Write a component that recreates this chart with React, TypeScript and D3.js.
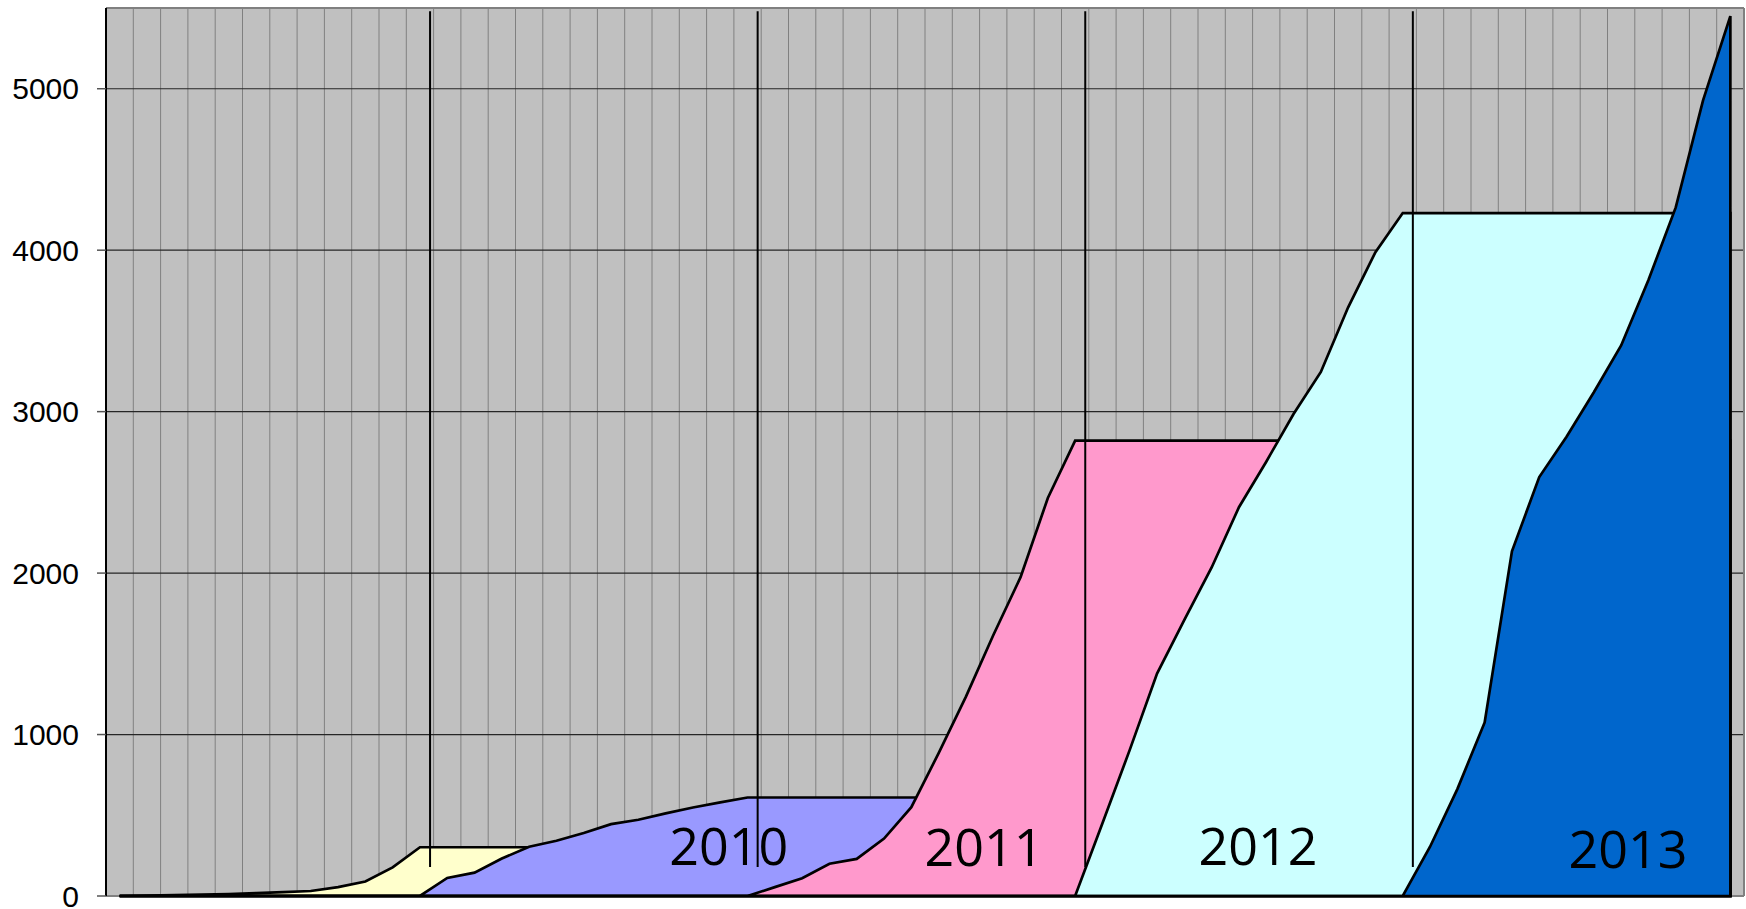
import React from "react";
import * as d3 from "d3";

const years = ["2009", "2010", "2011", "2012", "2013"];
const months = ["Jan", "Feb", "Mar", "Apr", "May", "Jun", "Jul", "Aug", "Sep", "Oct", "Nov", "Dec"];

// cumulative totals per month, one list per year
const cum2009 = [0, 3, 5, 8, 12, 18, 24, 31, 55, 90, 177, 302];
const cum2010 = [112, 145, 232, 305, 342, 390, 445, 472, 512, 548, 580, 610];
const cum2011 = [55, 110, 200, 230, 356, 550, 885, 1235, 1615, 1975, 2465, 2820];
const cum2012 = [450, 905, 1378, 1710, 2035, 2408, 2690, 2985, 3246, 3646, 3988, 4230];
const cum2013 = [305, 662, 1075, 2135, 2595, 2845, 3120, 3410, 3815, 4265, 4928, 5450];

const yTicks = [0, 1000, 2000, 3000, 4000, 5000];
const labelYears = ["2010", "2011", "2012", "2013"];

const fills = ["#FFFFCC", "#9999FF", "#FF99CC", "#CCFFFF", "#0066CC"];

const categories = years.flatMap((yr) => months.map((m) => `${m} ${yr}`));

// 0 before the year, running total during it, held flat afterwards
function toSeries(vals: number[], k: number) {
  return categories.map((_, i) => {
    const start = 12 * k;
    if (i < start) return 0;
    if (i < start + 12) return vals[i - start];
    return vals[11];
  });
}

const allYears = [cum2009, cum2010, cum2011, cum2012, cum2013];

export default function App() {
  const width = 1746;
  const height = 909;
  const left = 106, right = 1744, top = 8, bottom = 896;

  const x = d3.scalePoint<number>()
    .domain(categories.map((_, i) => i))
    .range([left, right])
    .padding(0.5);
  const step = x.step();
  const y = d3.scaleLinear().domain([0, 5500]).range([bottom, top]);

  const area = d3.area<number>()
    .x((_, i) => x(i) as number)
    .y0(y(0))
    .y1((d) => y(d));

  const series = allYears.map((vals, k) => toSeries(vals, k));

  // drawn year separators and captions (index units / values)
  const sepX = [11, 23, 35, 47].map((i) => (x(i) as number) + step * 0.37);
  const captionPos = [
    { idx: 22.31, v: 190 },
    { idx: 31.66, v: 185 },
    { idx: 41.7, v: 190 },
    { idx: 55.25, v: 176 },
  ];
  const xAt = (idx: number) => (x(0) as number) + idx * step;

  return (
    <div style={{ position: "absolute", left: 0, top: 0 }}>
      <svg width={width} height={height} style={{ display: "block", background: "#fff" }}>
        <rect x={left} y={top} width={right - left} height={bottom - top} fill="#C0C0C0" />

        {/* vertical gridlines between categories */}
        {d3.range(1, categories.length).map((k) => (
          <line key={"v" + k}
            x1={left + k * step} x2={left + k * step}
            y1={top} y2={bottom}
            stroke="#808080" strokeWidth={1} />
        ))}
        {yTicks.filter((t) => t > 0).map((t) => (
          <line key={"h" + t} x1={left} x2={right} y1={y(t)} y2={y(t)}
            stroke="#262626" strokeWidth={1.2} />
        ))}

        {/* frame */}
        <line x1={left} x2={right} y1={top} y2={top} stroke="#808080" strokeWidth={2} />
        <line x1={right} x2={right} y1={top} y2={bottom} stroke="#808080" strokeWidth={2} />
        <line x1={left} x2={right} y1={bottom} y2={bottom} stroke="#808080" strokeWidth={2} />

        {series.map((s, k) => (
          <path key={years[k]} d={area(s) as string}
            fill={fills[k]} stroke="#000" strokeWidth={2.7} strokeLinejoin="miter" />
        ))}

        {/* y axis */}
        <line x1={left} x2={left} y1={top} y2={bottom} stroke="#000" strokeWidth={2} />
        {yTicks.map((t) => (
          <g key={"t" + t}>
            <line x1={left - 9} x2={left} y1={y(t)} y2={y(t)} stroke="#555" strokeWidth={1.5} />
            <text x={left - 27} y={y(t)} textAnchor="end" dominantBaseline="central"
              style={{ fontFamily: "'Liberation Sans', Arial, sans-serif", fontSize: 30 }} fill="#000">
              {t}
            </text>
          </g>
        ))}

        {sepX.map((sx, i) => (
          <line key={"sep" + i} x1={sx} x2={sx} y1={y(5480)} y2={y(180)}
            stroke="#000" strokeWidth={2} />
        ))}

        {labelYears.map((lab, i) => (
          <text key={lab} x={xAt(captionPos[i].idx)} y={y(captionPos[i].v)}
            textAnchor="middle" fill="#000"
            style={{ fontFamily: "'Open Sans', sans-serif", fontSize: 52 }}>
            {lab}
          </text>
        ))}
      </svg>
    </div>
  );
}
